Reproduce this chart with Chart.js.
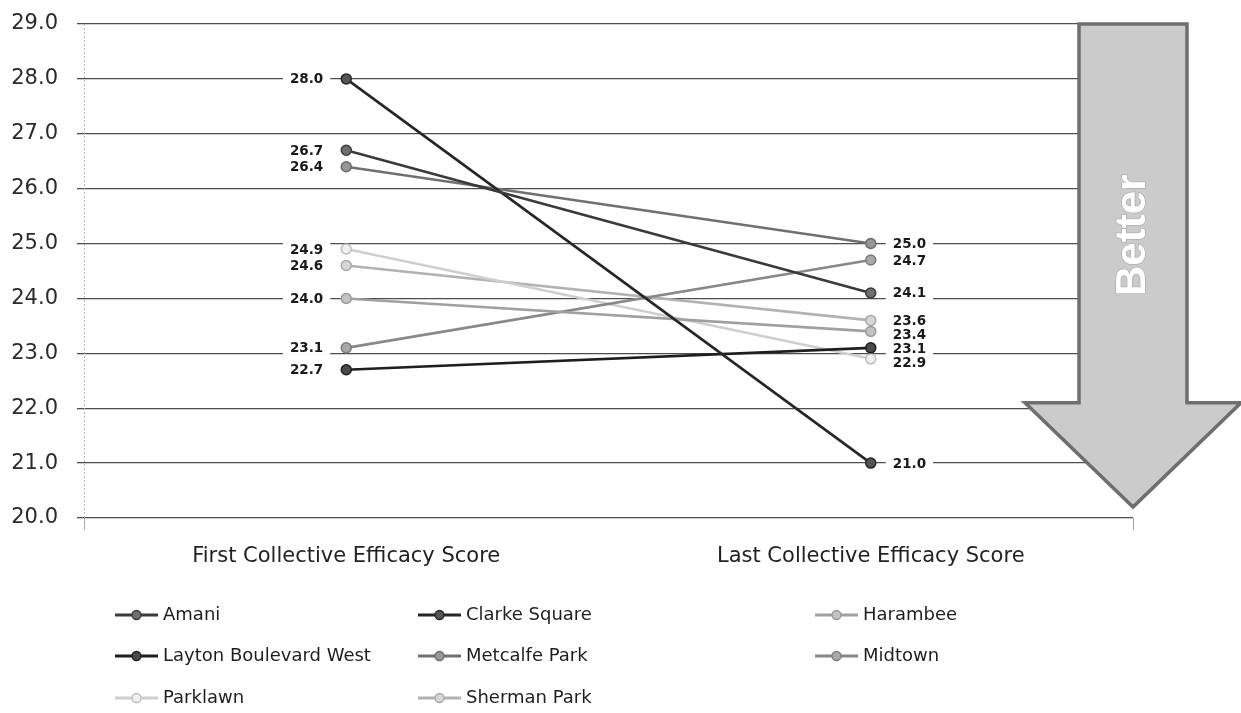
<!DOCTYPE html>
<html>
<head>
<meta charset="utf-8">
<title>Collective Efficacy Scores</title>
<script src="https://cdn.jsdelivr.net/npm/chart.js@4.4.1/dist/chart.umd.min.js"></script>
<style>
  html, body { margin: 0; padding: 0; background: #ffffff; }
  canvas { display: block; }
</style>
</head>
<body>
<canvas id="chart" width="1241" height="713"></canvas>
<script>
// Categories on the x axis
const categories = ['First Collective Efficacy Score', 'Last Collective Efficacy Score'];

// Neighbourhood series: [first score, last score]
const amani = [26.7, 24.1];
const clarkeSquare = [28.0, 21.0];
const harambee = [24.0, 23.4];
const laytonBoulevardWest = [22.7, 23.1];
const metcalfePark = [26.4, 25.0];
const midtown = [23.1, 24.7];
const parklawn = [24.9, 22.9];
const shermanPark = [24.6, 23.6];

// Value axis
const yMin = 20;
const yMax = 29;
const yStep = 1;

// Series styling (line colour, marker fill, marker edge)
const series = [
  { name: 'Amani', data: amani, line: '#3a3a3a', fill: '#6f6f6f', edge: '#3a3a3a' },
  { name: 'Clarke Square', data: clarkeSquare, line: '#262626', fill: '#555555', edge: '#262626' },
  { name: 'Harambee', data: harambee, line: '#a0a0a0', fill: '#c2c2c2', edge: '#9a9a9a' },
  { name: 'Layton Boulevard West', data: laytonBoulevardWest, line: '#1e1e1e', fill: '#4a4a4a', edge: '#1e1e1e' },
  { name: 'Metcalfe Park', data: metcalfePark, line: '#707070', fill: '#979797', edge: '#6a6a6a' },
  { name: 'Midtown', data: midtown, line: '#888888', fill: '#a8a8a8', edge: '#7c7c7c' },
  { name: 'Parklawn', data: parklawn, line: '#cfcfcf', fill: '#f0f0f0', edge: '#bdbdbd' },
  { name: 'Sherman Park', data: shermanPark, line: '#b2b2b2', fill: '#d6d6d6', edge: '#a8a8a8' }
];

const datasets = series.map(s => ({
  label: s.name,
  data: s.data,
  borderColor: s.line,
  backgroundColor: s.fill,
  pointBackgroundColor: s.fill,
  pointBorderColor: s.edge,
  pointBorderWidth: 1.5,
  pointRadius: 5,
  borderWidth: 2.6,
  tension: 0
}));

// Light dotted vertical axis line on the left of the plot
const dottedAxis = {
  id: 'dottedAxis',
  beforeDatasetsDraw(chart) {
    const { ctx, chartArea } = chart;
    ctx.save();
    ctx.strokeStyle = '#b4b4b4';
    ctx.lineWidth = 1;
    ctx.setLineDash([2, 2]);
    ctx.beginPath();
    ctx.moveTo(chartArea.left + 0.5, chartArea.top);
    ctx.lineTo(chartArea.left + 0.5, chartArea.bottom + 12);
    ctx.stroke();
    ctx.restore();
  }
};

// Large "Better" arrow at the right of the plot, drawn under the lines
const betterArrow = {
  id: 'betterArrow',
  beforeDatasetsDraw(chart) {
    const { ctx, chartArea, scales } = chart;
    const y = scales.y;
    const cx = chartArea.right;
    const shaftHalf = 54;
    const headHalf = 108;
    const top = y.getPixelForValue(yMax);
    const shaftBottom = y.getPixelForValue(22.1);
    const tip = y.getPixelForValue(20.2);
    ctx.save();
    ctx.beginPath();
    ctx.moveTo(cx - shaftHalf, top);
    ctx.lineTo(cx + shaftHalf, top);
    ctx.lineTo(cx + shaftHalf, shaftBottom);
    ctx.lineTo(cx + headHalf, shaftBottom);
    ctx.lineTo(cx, tip);
    ctx.lineTo(cx - headHalf, shaftBottom);
    ctx.lineTo(cx - shaftHalf, shaftBottom);
    ctx.closePath();
    ctx.fillStyle = '#cbcbcb';
    ctx.fill();
    ctx.lineWidth = 3.5;
    ctx.strokeStyle = '#6e6e6e';
    ctx.lineJoin = 'miter';
    ctx.stroke();

    ctx.translate(cx, y.getPixelForValue(25.15));
    ctx.rotate(-Math.PI / 2);
    ctx.font = 'bold 42px "Liberation Sans", Arial, sans-serif';
    ctx.textAlign = 'center';
    ctx.textBaseline = 'middle';
    ctx.lineWidth = 1.5;
    ctx.strokeStyle = '#b0b0b0';
    ctx.strokeText('Better', 0, 0);
    ctx.fillStyle = '#ffffff';
    ctx.fillText('Better', 0, 0);
    ctx.restore();
  }
};

// Value labels beside the first and last points
const valueLabels = {
  id: 'valueLabels',
  afterDatasetsDraw(chart) {
    const { ctx } = chart;
    const gap = 14;
    ctx.save();
    ctx.font = 'bold 13.5px "DejaVu Sans", sans-serif';
    ctx.textBaseline = 'middle';
    const sides = [[], []];
    chart.data.datasets.forEach((ds, i) => {
      chart.getDatasetMeta(i).data.forEach((pt, j) => {
        sides[j].push({ text: ds.data[j].toFixed(1), x: pt.x, y: pt.y });
      });
    });
    sides.forEach((labels, j) => {
      labels.sort((a, b) => a.y - b.y);
      let prev = -Infinity;
      labels.forEach(l => {
        l.ly = Math.max(l.y, prev + gap);
        prev = l.ly;
        l.w = ctx.measureText(l.text).width;
        l.lx = j === 0 ? l.x - 23 - l.w : l.x + 22;
      });
      labels.forEach(l => {
        ctx.fillStyle = '#ffffff';
        ctx.fillRect(l.lx - 7, l.ly - 7, l.w + 14, 14);
      });
      labels.forEach(l => {
        ctx.fillStyle = '#1a1a1a';
        ctx.textAlign = 'left';
        ctx.fillText(l.text, l.lx, l.ly + 1);
      });
    });
    ctx.restore();
  }
};

// Three-column legend under the axis labels
const gridLegend = {
  id: 'gridLegend',
  afterDraw(chart) {
    const { ctx } = chart;
    const colX = [115, 418, 815];
    const rowY = [615, 656, 698];
    const lineLen = 43;
    ctx.save();
    ctx.font = '18px "DejaVu Sans", sans-serif';
    ctx.textBaseline = 'middle';
    chart.data.datasets.forEach((ds, i) => {
      const x = colX[i % 3];
      const y = rowY[Math.floor(i / 3)];
      ctx.beginPath();
      ctx.moveTo(x, y);
      ctx.lineTo(x + lineLen, y);
      ctx.strokeStyle = ds.borderColor;
      ctx.lineWidth = 3;
      ctx.stroke();
      ctx.beginPath();
      ctx.arc(x + lineLen / 2, y, 4.5, 0, Math.PI * 2);
      ctx.fillStyle = ds.pointBackgroundColor;
      ctx.fill();
      ctx.lineWidth = 1.3;
      ctx.strokeStyle = ds.pointBorderColor;
      ctx.stroke();
      ctx.fillStyle = '#1e1e1e';
      ctx.fillText(ds.label, x + lineLen + 5, y);
    });
    ctx.restore();
  }
};

new Chart(document.getElementById('chart'), {
  type: 'line',
  data: { labels: categories, datasets },
  plugins: [dottedAxis, betterArrow, valueLabels, gridLegend],
  options: {
    responsive: false,
    animation: false,
    layout: { padding: { top: 24, right: 108, left: 0, bottom: 0 } },
    plugins: {
      legend: { display: false },
      tooltip: { enabled: false }
    },
    scales: {
      x: {
        offset: true,
        afterFit(scale) { scale.height = 195; },
        grid: {
          display: true,
          drawOnChartArea: false,
          drawTicks: true,
          tickLength: 12,
          offset: true,
          color: ctx => (ctx.index === 1 ? 'rgba(0,0,0,0)' : '#a0a0a0')
        },
        border: { display: false },
        ticks: {
          color: '#222222',
          padding: 14,
          font: { family: '"DejaVu Sans", sans-serif', size: 21 }
        }
      },
      y: {
        min: yMin,
        max: yMax,
        afterFit(scale) {
          scale.width = 84;
          scale.paddingTop = 0;
          scale.paddingBottom = 0;
        },
        grid: {
          color: '#4d4d4d',
          lineWidth: 1.3,
          tickLength: 7
        },
        border: { display: false },
        ticks: {
          stepSize: yStep,
          color: '#2a2a2a',
          padding: 19,
          font: { family: '"DejaVu Sans", sans-serif', size: 21 },
          callback: v => Number(v).toFixed(1)
        }
      }
    }
  }
});
</script>
</body>
</html>
